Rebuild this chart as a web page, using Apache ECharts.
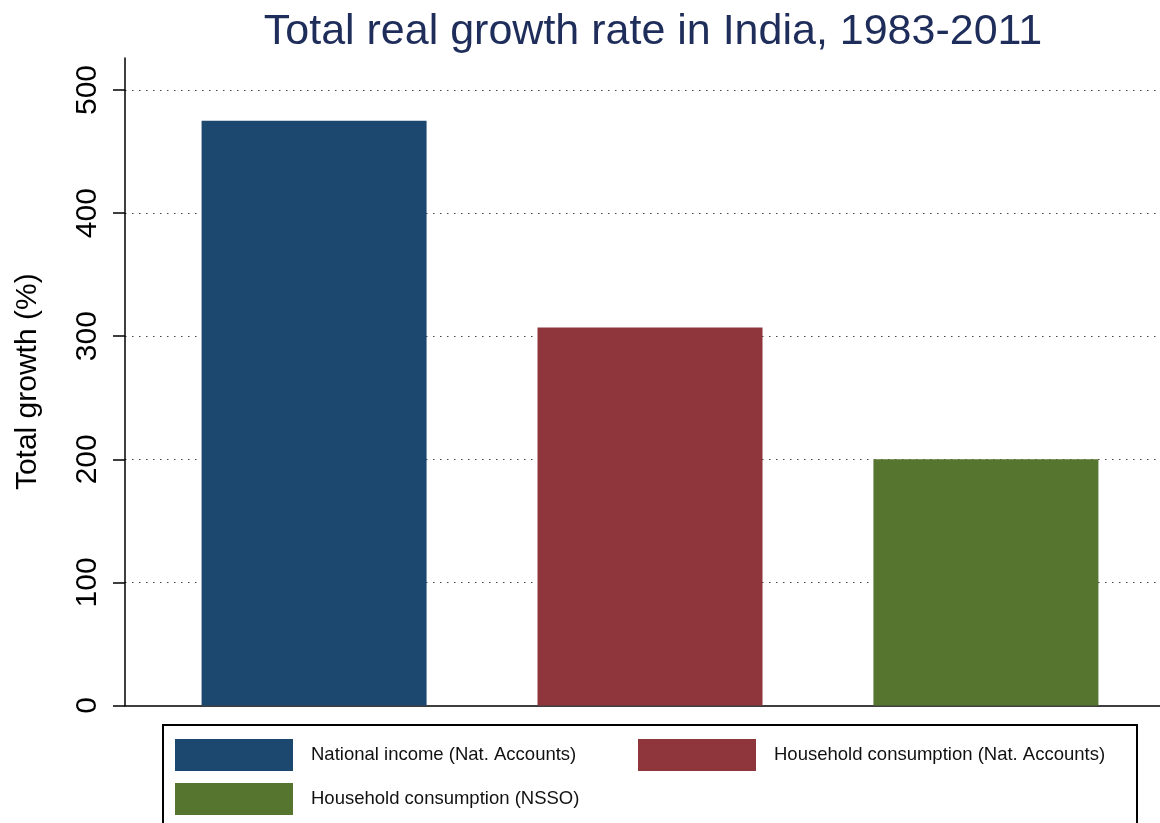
<!DOCTYPE html>
<html>
<head>
<meta charset="utf-8">
<script src="https://cdn.jsdelivr.net/npm/echarts@6/dist/echarts.min.js"></script>
<style>
html,body{margin:0;padding:0;background:#fff;}
#chart{width:1160px;height:823px;}
</style>
</head>
<body>
<div id="chart"></div>
<script>
const titleText = 'Total real growth rate in India, 1983-2011';
const yAxisTitle = 'Total growth (%)';
const seriesNames = ['National income (Nat. Accounts)', 'Household consumption (Nat. Accounts)', 'Household consumption (NSSO)'];
const seriesValues = [475, 307, 200];
const seriesColors = ['#1c4870', '#8f363c', '#56752f'];
const yTicks = [0, 100, 200, 300, 400, 500];

const FONT = '"Liberation Sans", Arial, Helvetica, sans-serif';
const chart = echarts.init(document.getElementById('chart'), null, {renderer: 'canvas'});

const legendPos = [
  {left: 175, top: 739},
  {left: 638, top: 739},
  {left: 175, top: 783}
];

const option = {
  backgroundColor: '#ffffff',
  animation: false,
  title: {
    text: titleText,
    left: 648,
    textAlign: 'center',
    top: 6,
    textStyle: {fontFamily: FONT, fontSize: 43, fontWeight: 'normal', color: '#1e2d5a'}
  },
  legend: seriesNames.map((n, i) => ({
    data: [n],
    left: legendPos[i].left,
    top: legendPos[i].top,
    padding: 0,
    icon: 'rect',
    itemWidth: 118,
    itemHeight: 32,
    selectedMode: false,
    textStyle: {fontFamily: FONT, fontSize: 18.5, color: '#111', padding: [6, 0, 0, 13]}
  })),
  grid: {left: 125, right: -15, top: 58, bottom: 117.5, containLabel: false, outerBoundsMode: 'none'},
  xAxis: {
    type: 'category',
    data: [''],
    axisLine: {show: true, lineStyle: {color: '#000', width: 1.5}},
    axisTick: {show: false},
    axisLabel: {show: false},
    splitLine: {show: false}
  },
  yAxis: {
    type: 'value',
    min: 0,
    max: 526,
    interval: 100,
    name: yAxisTitle,
    nameLocation: 'middle',
    nameGap: 82,
    nameRotate: 90,
    nameTextStyle: {fontFamily: FONT, fontSize: 30, color: '#000'},
    axisLine: {show: true, lineStyle: {color: '#000', width: 1.5}},
    axisTick: {show: true, inside: false, length: 12, lineStyle: {color: '#000', width: 1.5}, customValues: yTicks},
    axisLabel: {show: true, rotate: 90, margin: 22, fontFamily: FONT, fontSize: 30, color: '#000', customValues: yTicks},
    splitLine: {show: true, showMinLine: false, showMaxLine: true, lineStyle: {color: '#444', width: 1, type: [1.5, 5.5]}}
  },
  series: seriesNames.map((n, i) => ({
    name: n,
    type: 'bar',
    data: [seriesValues[i]],
    barWidth: 225,
    barGap: '49.3%',
    itemStyle: {color: seriesColors[i]}
  })),
  graphic: [{
    type: 'rect',
    shape: {x: 163, y: 725, width: 974, height: 120},
    style: {fill: 'none', stroke: '#000', lineWidth: 2},
    silent: true,
    z: 10
  }]
};
chart.setOption(option);
</script>
</body>
</html>
